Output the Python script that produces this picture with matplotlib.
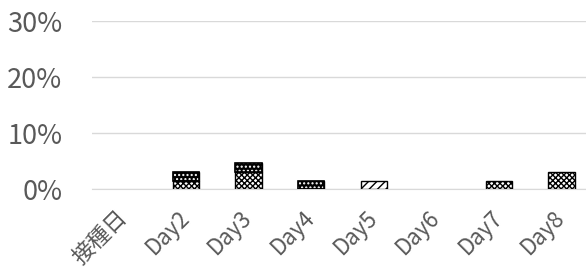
import numpy as np
import matplotlib.pyplot as plt

plt.rcParams['font.family'] = ['Noto Sans CJK JP', 'DejaVu Sans']

# Data (share of people, %)
days = ['接種日', 'Day2', 'Day3', 'Day4', 'Day5', 'Day6', 'Day7', 'Day8']
level_low = [0, 1.5, 3.1, 0, 0, 0, 1.5, 3.1]    # checker pattern
level_mid = [0, 1.5, 1.5, 1.5, 0, 0, 0, 0]      # dotted pattern
level_high = [0, 0, 0, 0, 1.5, 0, 0, 0]         # diagonal pattern

x = np.arange(len(days))
low = np.array(level_low) / 100
mid = np.array(level_mid) / 100
high = np.array(level_high) / 100

fig = plt.figure(figsize=(5.86, 2.67), dpi=100)
ax = fig.add_axes([92 / 586, 1 - 189 / 267, (586 - 92) / 586, (189 - 21) / 267])

w = 0.42
plt.rcParams['hatch.linewidth'] = 1.0

# skip empty segments so no flat line is drawn at zero
m = low > 0
ax.bar(x[m], low[m], w, color='white', edgecolor='black', hatch='xxxxxx', linewidth=1, zorder=3)
m = mid > 0
ax.bar(x[m], mid[m], w, bottom=low[m], color='black', edgecolor='black', linewidth=1, zorder=3)
ax.bar(x[m], mid[m], w, bottom=low[m], color='none', edgecolor='white', hatch='....', linewidth=0, zorder=4)
ax.bar(x[m], mid[m], w, bottom=low[m], color='none', edgecolor='black', linewidth=1.2, zorder=5)
m = high > 0
ax.bar(x[m], high[m], w, bottom=(low + mid)[m], color='white', edgecolor='black', hatch='////', linewidth=1, zorder=3)

ax.set_ylim(0, 0.3)
ax.set_xlim(-0.5, 7.39)
ax.set_yticks([0, 0.1, 0.2, 0.3])
ax.set_yticklabels(['0%', '10%', '20%', '30%'])
ax.yaxis.grid(True, color='#d9d9d9', linewidth=1)
ax.set_axisbelow(True)
for s in ['top', 'right', 'left']:
    ax.spines[s].set_visible(False)
ax.spines['bottom'].set_color('#d9d9d9')
ax.tick_params(axis='y', length=0, labelsize=19.5, labelcolor='#595959', pad=21.5)
ax.tick_params(axis='x', length=0, labelsize=16, labelcolor='#595959', pad=18)
ax.set_xticks(x)
ax.set_xticklabels(days, rotation=45, ha='right', va='center', rotation_mode='anchor')

plt.savefig('out.png', dpi=100)
